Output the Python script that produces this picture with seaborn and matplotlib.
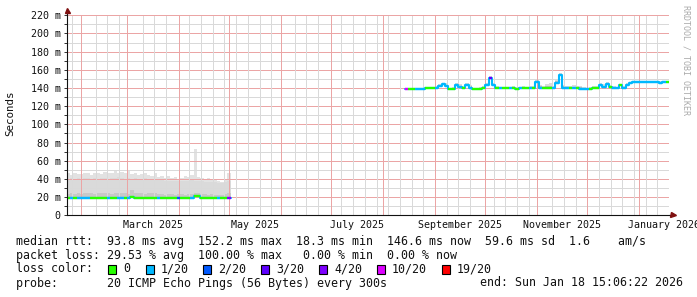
import numpy as np
import pandas as pd
import matplotlib
matplotlib.use("Agg")
import matplotlib.pyplot as plt
from matplotlib.patches import Rectangle
import seaborn as sns

# ---------------- data ----------------
# segment 1: 2-day steps starting 2025-01-23 15:06
median1 = [18.8, 18.7, 18.8, 18.9, 18.7, 18.8, 18.8, 18.9, 18.8, 18.7,
           18.8, 18.9, 18.8, 18.7, 18.8, 18.8, 18.9, 18.8, 18.7, 20.5,
           18.8, 18.8, 18.9, 18.8, 18.7, 18.8, 18.8, 18.9, 18.8, 18.7,
           18.8, 18.8, 18.9, 18.8, 18.7, 18.8, 18.8, 18.9, 21.2, 21.0,
           18.9, 18.8, 18.7, 18.8, 18.8, 18.7, 18.8, 18.8, 18.9]
loss1 = [0, 1, 0, 1, 1, 1, 1, 0, 0, 0,
         0, 0, 1, 0, 0, 1, 1, 0, 1, 0,
         0, 0, 0, 0, 0, 0, 0, 1, 0, 0,
         0, 0, 0, 2, 0, 0, 0, 1, 0, 0,
         0, 0, 0, 0, 0, 1, 0, 0, 4]
dark1 = [23.5, 24.0, 23.0, 24.5, 23.5, 24.0, 25.0, 24.0, 23.5, 24.5,
         24.0, 25.0, 24.5, 23.5, 24.0, 25.0, 24.5, 24.0, 23.0, 28.0,
         24.5, 24.5, 24.0, 23.5, 24.0, 25.0, 24.0, 23.5, 23.0, 22.5,
         23.0, 23.5, 22.5, 23.0, 23.0, 22.5, 23.0, 23.5, 24.0, 24.0,
         23.5, 23.0, 22.5, 23.0, 22.5, 22.0, 22.5, 23.0, 24.0]
mid1 = [40, 41, 40, 41, 40, 41, 41, 40, 41, 40,
        41, 41, 40, 41, 41, 42, 41, 40, 41, 40,
        41, 40, 40, 41, 40, 40, 39, 39, 39, 38,
        38, 38, 38, 38, 38, 38, 38, 39, 38, 38,
        38, 37, 37, 37, 37, 36, 36, 37, 38]
max1 = [46, 44, 47, 45, 45, 47, 46, 44, 46, 47,
        45, 48, 47, 46, 49, 47, 48, 46, 49, 45,
        47, 44, 45, 46, 44, 43, 46, 42, 43, 41,
        43, 41, 42, 40, 41, 43, 42, 44, 73, 42,
        41, 40, 41, 40, 39, 38, 37, 40, 46]

# segment 2: 2-day steps starting 2025-08-14
median2 = [138.6, 138.8, 138.6, 138.8, 138.6, 139.0, 139.6, 139.8, 139.6, 140.5,
           142.0, 144.0, 142.5, 138.6, 139.2, 142.8, 141.0, 140.0, 143.8, 140.5,
           139.0, 138.8, 139.0, 139.5, 143.0, 150.5, 143.5, 140.0, 139.8, 139.6,
           139.8, 139.5, 139.7, 139.4, 139.8, 139.6, 139.8, 140.0, 139.7, 147.0,
           140.5, 139.8, 140.2, 139.6, 140.0, 146.0, 154.5, 140.5, 139.6, 139.8,
           139.5, 139.8, 139.4, 138.6, 138.4, 139.2, 139.6, 140.2, 143.2, 141.5,
           144.5, 140.8, 140.0, 139.8, 142.8, 140.0, 143.5, 145.0, 146.5, 146.3,
           146.5, 146.4, 146.6, 146.5, 146.3, 146.6, 145.5, 146.4, 147.0]
loss2 = [10, 0, 0, 1, 1, 1, 0, 0, 0, 1,
         1, 1, 1, 0, 0, 1, 1, 0, 1, 1,
         0, 0, 0, 0, 1, 3, 1, 0, 1, 0,
         0, 1, 0, 0, 1, 0, 0, 1, 0, 1,
         1, 0, 0, 0, 1, 1, 1, 1, 1, 0,
         1, 0, 1, 1, 1, 0, 0, 0, 1, 1,
         1, 0, 1, 1, 0, 1, 1, 1, 1, 1,
         1, 1, 1, 1, 1, 1, 1, 1, 0]
max2 = [139.5, 140.0, 140.0, 140.0, 140.0, 140.5, 141.0, 141.0, 141.0, 142.0,
        144.0, 146.0, 145.0, 140.5, 141.0, 145.0, 144.0, 142.0, 146.0, 143.0,
        140.5, 140.5, 141.0, 142.0, 146.0, 153.0, 146.0, 142.0, 141.5, 141.0,
        141.5, 141.0, 142.0, 141.0, 141.5, 142.0, 141.5, 142.0, 142.0, 149.0,
        143.0, 142.0, 144.0, 145.0, 142.0, 149.0, 157.0, 143.0, 142.0, 142.5,
        143.0, 142.0, 142.5, 141.0, 140.5, 141.0, 142.0, 142.0, 145.0, 144.0,
        147.0, 143.0, 142.0, 141.5, 144.0, 142.0, 145.5, 146.5, 147.5, 147.5,
        147.5, 147.5, 148.0, 147.5, 147.5, 148.0, 147.5, 147.5, 148.0]

loss_steps = [0, 1, 2, 3, 4, 10, 19]
loss_labels = ["0", "1/20", "2/20", "3/20", "4/20", "10/20", "19/20"]
loss_hex = ["#26ff00", "#00b8ff", "#0059ff", "#5e00ff", "#7e00ff", "#dd00ff", "#ff0000"]
loss_colors = dict(zip(loss_steps, loss_hex))

y_ticks = [0, 20, 40, 60, 80, 100, 120, 140, 160, 180, 200, 220]
y_tick_labels = ["0", "20 m", "40 m", "60 m", "80 m", "100 m", "120 m",
                 "140 m", "160 m", "180 m", "200 m", "220 m"]
x_label_dates = ["2025-03-16", "2025-05-16", "2025-07-16", "2025-09-16",
                 "2025-11-16", "2026-01-16"]
x_labels = ["March 2025", "May 2025", "July 2025", "September 2025",
            "November 2025", "January 2026"]

start = pd.Timestamp("2025-01-23 15:06:22")
end = pd.Timestamp("2026-01-18 15:06:22")

legend_lines = [
    "median rtt:  93.8 ms avg  152.2 ms max  18.3 ms min  146.6 ms now  59.6 ms sd  1.6    am/s",
    "packet loss: 29.53 % avg  100.00 % max   0.00 % min  0.00 % now",
    "loss color:",
    "probe:       20 ICMP Echo Pings (56 Bytes) every 300s",
]
end_text = "end: Sun Jan 18 15:06:22 2026"

# ---------------- style ----------------
sns.set_theme(style="white")
plt.rcParams["font.family"] = ["DejaVu Sans Mono", "DejaVu Sans"]
plt.rcParams["axes.linewidth"] = 0.8

W, H = 697, 297
fig = plt.figure(figsize=(W / 100, H / 100), dpi=100)
fig.patch.set_facecolor("white")
ax = fig.add_axes([66.7 / W, 1 - 215.3 / H, 601.8 / W, 200 / H])
ax.set_facecolor("white")

ax.set_xlim(start, end)
ax.set_ylim(0, 220)

# grid (1px dotted, crisp)
minor_c = "#d9d9d9"
major_c = "#eba5a5"
dot = (0, (1, 1))
gkw = dict(lw=0.72, ls=dot, zorder=2, antialiased=False)
for v in range(10, 221, 20):
    ax.axhline(v, color=minor_c, **gkw)
for v in range(20, 221, 20):
    ax.axhline(v, color=major_c, **gkw)
months = pd.date_range("2025-02-01", end, freq="MS")
weeks = [w for w in pd.date_range("2025-01-27", end, freq="7D")
         if min(abs((w - m).days) for m in months) > 2]
for w in weeks:
    ax.axvline(w, color=minor_c, **gkw)
for m in months:
    ax.axvline(m, color=major_c, **gkw)


def ext(a):
    a = np.asarray(a, dtype=float)
    return np.append(a, a[-1])


def draw_segment(t0, med, loss, layers):
    edges = pd.date_range(t0, periods=len(med) + 1, freq="2D")
    for lo, hi, col in layers:
        ax.fill_between(edges, ext(lo), ext(hi), step="post", color=col,
                        lw=0, zorder=1)
    sns.lineplot(x=edges, y=ext(med), drawstyle="steps-post", color="#00b8ff",
                 lw=1.5, ax=ax, zorder=3, estimator=None, sort=False)
    ax.hlines(med, edges[:-1], edges[1:],
              colors=[loss_colors[l] for l in loss], lw=1.7, zorder=4)


m1 = np.asarray(median1)
draw_segment(start, median1, loss1, [
    (m1 - 0.3, max1, "#e2e2e2"),
    (m1 - 0.3, mid1, "#dadada"),
    (m1 - 0.3, dark1, "#c8c8c8"),
])
m2 = np.asarray(median2)
mx2 = np.asarray(max2)
draw_segment(pd.Timestamp("2025-08-14"), median2, loss2, [
    (m2 - 0.5, mx2, "#dcdcdc"),
    (m2 - 0.5, (m2 + mx2) / 2, "#bcbcbc"),
])

# axes spines and ticks
for s in ["top", "right"]:
    ax.spines[s].set_visible(False)
for s in ["left", "bottom"]:
    ax.spines[s].set_color("#111111")
    ax.spines[s].set_zorder(5)

ax.set_yticks(y_ticks)
ax.set_yticklabels(y_tick_labels)
ax.set_yticks(range(10, 221, 20), minor=True)
ax.tick_params(axis="y", which="both", direction="out", length=2.2, width=0.6,
               pad=2.2, labelsize=7.2, colors="#111111", left=True)
ax.set_xticks(pd.to_datetime(x_label_dates))
ax.set_xticklabels(x_labels)
ax.tick_params(axis="x", which="both", length=0, pad=3.6, labelsize=7.2,
               colors="#111111", bottom=True)
ax.set_xlabel("")
ax.set_ylabel("")
ax.grid(False)

# arrows
arrow_c = "#7f1010"
ax.plot([1.0, 1.006], [0, 0], color="#111111", lw=0.8, transform=ax.transAxes,
        clip_on=False, zorder=5)
ax.plot([1.008], [0], marker=">", ms=3.6, color=arrow_c, transform=ax.transAxes,
        clip_on=False, zorder=6)
ax.plot([0, 0], [1.0, 1.02], color="#111111", lw=0.8, transform=ax.transAxes,
        clip_on=False, zorder=5)
ax.plot([0], [1.025], marker="^", ms=3.6, color=arrow_c, transform=ax.transAxes,
        clip_on=False, zorder=6)

# y label
fig.text(10.5 / W, 1 - 113.5 / H, "Seconds", rotation=90, ha="center",
         va="center", fontsize=7.8, color="#111111")

# watermark
fig.text(686 / W, 1 - 5 / H, "RRDTOOL / TOBI OETIKER", rotation=270,
         ha="center", va="top", fontsize=6.0, color="#aaaaaa")

# legend
rows_y = [241, 255, 269, 283]
for txt, yy in zip(legend_lines, rows_y):
    fig.text(16 / W, 1 - yy / H, txt, ha="left", va="center", fontsize=8.4,
             color="#111111")
fig.text(480 / W, 1 - 283 / H, end_text, ha="left", va="center", fontsize=8.4,
         color="#111111")

box_x = [108.3, 145.7, 203.3, 261, 319, 376.7, 441.7]
for bx, col, lab in zip(box_x, loss_hex, loss_labels):
    fig.patches.append(Rectangle((bx / W, 1 - 273.5 / H), 8 / W, 9 / H,
                                 transform=fig.transFigure, facecolor=col,
                                 edgecolor="black", lw=0.8))
    fig.text((bx + 15) / W, 1 - 269 / H, lab, ha="left", va="center",
             fontsize=8.4, color="#111111")

fig.savefig("out.png", dpi=100, facecolor="white")
